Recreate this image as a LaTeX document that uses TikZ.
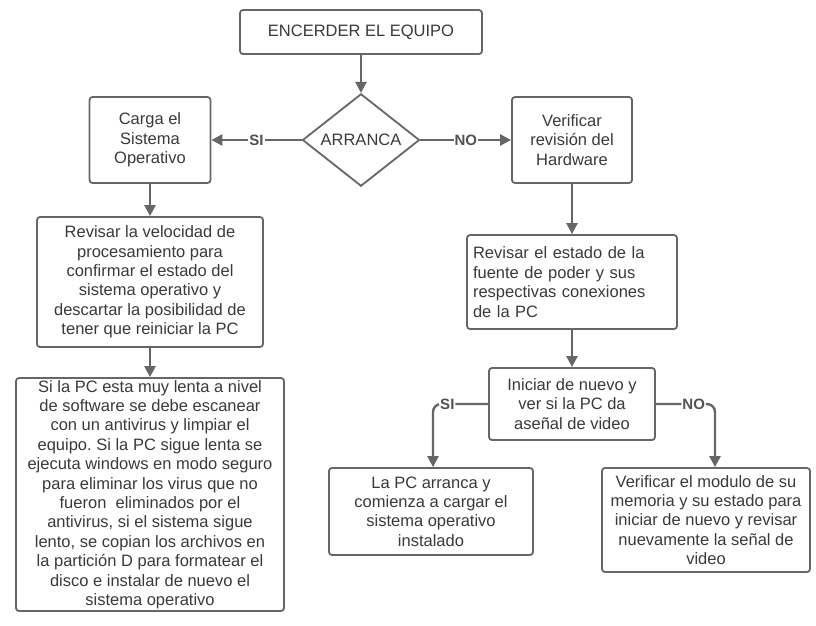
\documentclass[tikz,border=0pt]{standalone}
\usepackage{fontspec}
\setmainfont{Liberation Sans}
\frenchspacing
\usetikzlibrary{arrows.meta,shapes.geometric,calc}
\definecolor{linegray}{HTML}{666666}
\definecolor{textgray}{HTML}{3A3A3A}
\begin{document}
\begin{tikzpicture}[x=1pt,y=-1pt,
  every node/.style={font=\fontsize{16.5}{19.4}\selectfont, text=textgray},
  box/.style={draw=linegray, line width=1.8pt, rounded corners=3pt, fill=white, align=center, inner sep=0pt},
  decis/.style={draw=linegray, line width=1.8pt, diamond, inner sep=0pt, fill=white},
  conn/.style={draw=linegray, line width=2.4pt, -{Triangle[length=11pt,width=11pt]}},
  lbl/.style={fill=white, inner sep=1pt, font=\fontsize{15}{16}\selectfont\bfseries, text=linegray!80!black}
]
\useasboundingbox (0,0) rectangle (816,625);

\node[box, minimum width=242pt, minimum height=44pt] (enc) at (361,32) {ENCERDER EL EQUIPO};
\node[decis, minimum width=117pt, minimum height=86pt] (arr) at (361,140) {ARRANCA};
\node[box, minimum width=121pt, minimum height=86pt] (carga) at (150,140) {Carga el\\Sistema\\Operativo};
\node[box, minimum width=120pt, minimum height=86pt] (verif) at (572,140) {Verificar\\revisión del\\Hardware};
\node[box, minimum width=226pt, minimum height=130pt] (rev1) at (150,282) {Revisar la velocidad de\\procesamiento para\\confirmar el estado del\\sistema operativo y\\descartar la posibilidad de\\tener que reiniciar la PC};
\node[box, minimum width=268pt, minimum height=233pt] (big) at (150,494.5) {Si la PC esta muy lenta a nivel\\de software se debe escanear\\con un antivirus y limpiar el\\equipo. Si la PC sigue lenta se\\ejecuta windows en modo seguro\\para eliminar los virus que no\\fueron \ eliminados por el\\antivirus, si el sistema sigue\\lento, se copian los archivos en\\la partición D para formatear el\\disco e instalar de nuevo el\\sistema operativo};
\node[box, minimum width=210pt, minimum height=94pt, align=left, text width=198pt] (rev2) at (572,282) {Revisar el estado de la\\fuente de poder y sus\\respectivas conexiones\\de la PC};
\node[box, minimum width=166pt, minimum height=72pt] (ini) at (572,404) {Iniciar de nuevo y\\ver si la PC da\\aseñal de video};
\node[box, minimum width=204pt, minimum height=87pt] (lapc) at (431,511.5) {La PC arranca y\\comienza a cargar el\\sistema operativo\\instalado};
\node[box, minimum width=208pt, minimum height=104pt] (mod) at (706,520) {Verificar el modulo de su\\memoria y su estado para\\iniciar de nuevo y revisar\\nuevamente la señal de\\video};

\draw[conn] (enc.south) -- (arr.north);
\draw[conn] (arr.west) -- node[lbl] {SI} (carga.east);
\draw[conn] (arr.east) -- node[lbl] {NO} (verif.west);
\draw[conn] (carga.south) -- (rev1.north);
\draw[conn] (rev1.south) -- (big.north);
\draw[conn] (verif.south) -- (rev2.north);
\draw[conn] (rev2.south) -- (ini.north);
\coordinate (sitip) at ($(lapc.north)+(2,0)$);
\coordinate (notip) at ($(mod.north)+(9,0)$);
\draw[conn, rounded corners=8pt] (ini.west) -| node[lbl, pos=0.37] {SI} (sitip);
\draw[conn, rounded corners=8pt] (ini.east) -| node[lbl, pos=0.32] {NO} (notip);
\end{tikzpicture}
\end{document}
